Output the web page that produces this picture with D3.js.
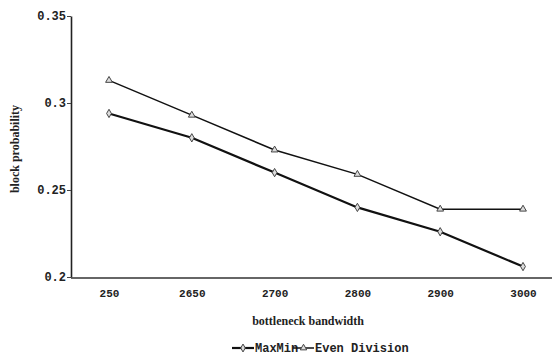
<!DOCTYPE html>
<html>
<head>
<meta charset="utf-8">
<script src="https://cdn.jsdelivr.net/npm/d3@7"></script>
<style>
  body { margin: 0; background: #fff; }
  svg { display: block; }
</style>
</head>
<body>
<div id="chart"></div>
<script>
// values
const categories = ["250", "2650", "2700", "2800", "2900", "3000"];
const maxMin = [0.294, 0.28, 0.26, 0.24, 0.226, 0.206];
const evenDivision = [0.313, 0.293, 0.273, 0.259, 0.239, 0.239];
const yTicks = [0.2, 0.25, 0.3, 0.35];
const yTickLabels = ["0.2", "0.25", "0.3", "0.35"];

const W = 558, H = 358;
const svg = d3.select("#chart").append("svg")
    .attr("width", W)
    .attr("height", H);

const plot = {left: 71, right: 552, top: 16, bottom: 277};

const x = d3.scalePoint()
    .domain(categories)
    .range([109, 523]);

const y = d3.scaleLinear()
    .domain([0.2, 0.35])
    .range([plot.bottom, plot.top]);

const mono = "'Liberation Mono', 'DejaVu Sans Mono', monospace";
const serif = "'Liberation Serif', 'DejaVu Serif', serif";

// y axis
const yAxis = d3.axisLeft(y)
    .tickValues(yTicks)
    .tickFormat((d, i) => yTickLabels[i])
    .tickSize(4)
    .tickSizeOuter(0)
    .tickPadding(1);

const gy = svg.append("g")
    .attr("transform", "translate(" + plot.left + ",0)")
    .call(yAxis);
gy.select(".domain").attr("stroke", "#222").attr("stroke-width", 1.6);
gy.selectAll(".tick line").attr("stroke", "#444");
gy.selectAll(".tick text")
    .style("font-family", mono)
    .style("font-size", "12px")
    .style("font-weight", "bold")
    .attr("fill", "#222");

// x axis (domain drawn as its own line, it runs past the points)
const xAxis = d3.axisBottom(x)
    .tickSize(0)
    .tickPadding(12);

const gx = svg.append("g")
    .attr("transform", "translate(0," + plot.bottom + ")")
    .call(xAxis);
gx.select(".domain").remove();
gx.selectAll(".tick text")
    .style("font-family", mono)
    .style("font-size", "11px")
    .style("font-weight", "bold")
    .attr("fill", "#222");

svg.append("line")
    .attr("x1", plot.left)
    .attr("x2", plot.right)
    .attr("y1", plot.bottom + 1)
    .attr("y2", plot.bottom + 1)
    .attr("stroke", "#333")
    .attr("stroke-width", 1.4);

// axis titles
svg.append("text")
    .attr("x", 308)
    .attr("y", 325)
    .attr("text-anchor", "middle")
    .style("font-family", serif)
    .style("font-size", "12px")
    .style("font-weight", "bold")
    .attr("fill", "#222")
    .text("bottleneck bandwidth");

svg.append("text")
    .attr("transform", "translate(19,149) rotate(-90)")
    .attr("text-anchor", "middle")
    .style("font-family", serif)
    .style("font-size", "12px")
    .style("font-weight", "bold")
    .attr("fill", "#222")
    .text("block probability");

// series
const series = [
    {name: "MaxMin", values: maxMin, width: 2.2, symbol: d3.symbolDiamond},
    {name: "Even Division", values: evenDivision, width: 1.5, symbol: d3.symbolTriangle}
];

const line = d3.line()
    .x((d, i) => x(categories[i]))
    .y(d => y(d));

series.forEach(s => {
    svg.append("path")
        .datum(s.values)
        .attr("fill", "none")
        .attr("stroke", "#111")
        .attr("stroke-width", s.width)
        .attr("d", line);

    svg.selectAll(null)
        .data(s.values)
        .enter()
        .append("path")
        .attr("transform", (d, i) => "translate(" + x(categories[i]) + "," + y(d) + ")")
        .attr("d", d3.symbol().type(s.symbol).size(20))
        .attr("fill", "#ddd")
        .attr("stroke", "#444")
        .attr("stroke-width", 1);
});

// legend
const legendY = 348;
const legendItems = [
    {x0: 232, x1: 254, tx: 255},
    {x0: 293, x1: 314, tx: 315}
];

series.forEach((s, i) => {
    const it = legendItems[i];
    svg.append("line")
        .attr("x1", it.x0)
        .attr("x2", it.x1)
        .attr("y1", legendY)
        .attr("y2", legendY)
        .attr("stroke", "#111")
        .attr("stroke-width", s.width);
    svg.append("path")
        .attr("transform", "translate(" + ((it.x0 + it.x1) / 2) + "," + legendY + ")")
        .attr("d", d3.symbol().type(s.symbol).size(18))
        .attr("fill", "#ddd")
        .attr("stroke", "#444");
    svg.append("text")
        .attr("x", it.tx)
        .attr("y", legendY)
        .attr("dy", "0.35em")
        .style("font-family", mono)
        .style("font-size", "12px")
        .style("font-weight", "bold")
        .attr("fill", "#222")
        .text(s.name);
});
</script>
</body>
</html>
